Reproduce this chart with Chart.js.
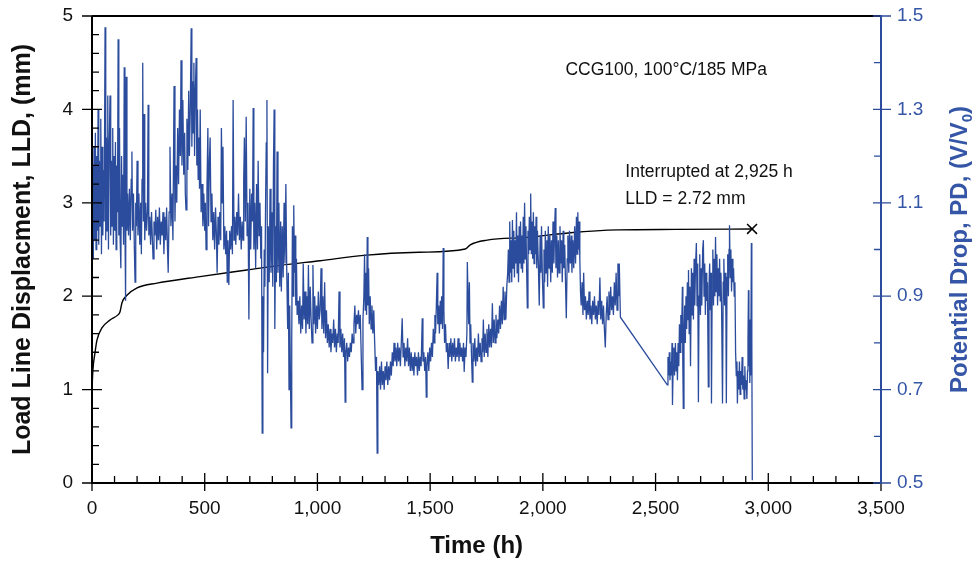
<!DOCTYPE html>
<html>
<head>
<meta charset="utf-8">
<script src="https://cdn.jsdelivr.net/npm/chart.js@4.4.1/dist/chart.umd.min.js"></script>
<style>
  html, body { margin: 0; padding: 0; background: #fff; }
  #wrap { width: 978px; height: 562px; }
</style>
</head>
<body>
<div id="wrap"><canvas id="ccgChart" width="978" height="562"></canvas></div>
<script>
// load line displacement (mm) vs time (h)
var lldHours = [0, 4, 13, 22, 44, 80, 115, 124, 133, 155, 200, 288, 479, 687, 835, 1012, 1219, 1450, 1656, 1678, 1753, 1931, 2122, 2335, 2588, 2925];
var lldValues = [1.0, 1.21, 1.39, 1.53, 1.66, 1.745, 1.80, 1.83, 1.93, 2.01, 2.09, 2.14, 2.21, 2.28, 2.33, 2.38, 2.44, 2.47, 2.505, 2.55, 2.60, 2.63, 2.68, 2.71, 2.715, 2.72];

// end of test marker
var endHours = [2928];
var endLLD = [2.72];

// potential drop (V/V0) vs time (h)
var pdHours = [
  0, 3, 6, 9, 12, 15, 18, 21, 24, 27, 30, 33, 36, 39, 42, 45, 48, 51, 54, 58,
  61, 64, 67, 70, 73, 76, 80, 83, 86, 89, 92, 95, 98, 101, 104, 107, 110, 113, 116, 119,
  122, 125, 128, 131, 134, 137, 140, 143, 146, 149, 152, 155,
  158, 162, 166, 170, 174, 177, 180, 184, 188, 191, 194, 197, 200, 204, 208, 212, 216, 219,
  222, 225, 228, 231, 234, 238, 242, 246, 249, 252, 256, 260, 264, 268, 271, 275, 279, 283,
  287, 291, 295, 299, 303, 307, 311, 315, 319, 323, 327, 331, 335, 338,
  342, 346, 350, 355, 359, 364, 368, 372, 376, 380, 384, 388, 392, 395, 399, 403, 407, 411,
  414, 417, 421, 425, 429, 432, 436, 440, 443, 446, 449, 452, 455, 458, 462, 465, 468, 471,
  474, 477, 480,
  484, 488, 492, 496, 500, 503, 506, 510, 514, 517, 521, 524, 528, 532, 536, 540, 544, 548,
  552, 555, 559, 563, 567, 571, 574, 578, 581, 585, 589, 593, 597, 600, 603, 607, 611, 615,
  619, 623, 626, 630, 634, 638, 642, 646, 650, 654, 658, 662, 666, 670, 673, 676, 680, 684,
  688, 692, 696, 700, 704, 708, 712, 715, 718,
  722, 726, 730, 734, 737, 741, 745, 749, 752, 755, 758, 761, 764, 767, 770, 773, 776, 779,
  782, 786, 790, 794, 798, 802, 805, 808, 811, 815, 818, 821, 825, 829, 833, 837, 840, 844,
  848, 852, 856, 860, 864, 868, 871, 874, 877, 880, 883, 886, 889, 892, 895, 898, 901, 904,
  907, 910, 914,
  918, 922, 926, 930, 934, 937, 941, 945, 949, 953, 957, 960, 964, 968, 972, 976, 980, 984,
  988, 992, 996, 1000, 1004, 1008, 1012, 1016, 1020, 1024, 1028, 1032, 1036, 1040, 1044, 1048,
  1052, 1056, 1060, 1064, 1068, 1072, 1076, 1080, 1084, 1088, 1092, 1096, 1100, 1104, 1108, 1112,
  1116, 1120, 1123, 1126, 1130, 1134, 1138, 1142, 1146, 1150, 1154, 1158, 1162, 1166, 1170, 1174,
  1178, 1182, 1186, 1190, 1194, 1198,
  1202, 1206, 1209, 1212, 1215, 1218, 1221, 1224, 1227, 1230, 1234, 1238, 1242, 1246, 1250, 1254,
  1258, 1262, 1265, 1268, 1272, 1276, 1280, 1284, 1288, 1292, 1296, 1300, 1304, 1308, 1312, 1316,
  1320, 1324, 1328, 1332, 1336, 1340, 1344, 1348, 1352, 1356, 1360, 1364, 1368, 1372, 1376, 1380,
  1384, 1388, 1392, 1396, 1400, 1404, 1408, 1412, 1416, 1420, 1424, 1428, 1432, 1436, 1440, 1444,
  1448, 1452, 1456, 1460, 1465, 1468, 1472, 1476, 1480, 1483, 1486, 1490, 1494, 1498,
  1502, 1506, 1510, 1514, 1518, 1521, 1524, 1527, 1531, 1534, 1538, 1541, 1545, 1548, 1551, 1555,
  1558, 1561, 1564, 1568, 1572, 1576, 1580, 1584, 1588, 1592, 1596, 1600, 1604, 1608, 1612, 1616,
  1620, 1624, 1628, 1632, 1636, 1640, 1644, 1648, 1651, 1655, 1659, 1663, 1665, 1668, 1671, 1674,
  1677, 1680, 1683, 1687, 1690, 1694, 1698, 1702, 1706, 1710, 1714, 1718, 1722, 1726, 1730, 1733,
  1736, 1740, 1744, 1748, 1752, 1756, 1760, 1764, 1768, 1772, 1776, 1780, 1784, 1788, 1792, 1796,
  1800, 1804, 1808, 1812, 1816, 1820, 1824, 1828, 1832, 1836, 1840,
  1844, 1847, 1850, 1853, 1856, 1859, 1862, 1865, 1868, 1871, 1874, 1877, 1880, 1883, 1886, 1889,
  1892, 1895, 1898, 1901, 1904, 1907, 1910, 1913, 1916, 1919, 1922, 1925, 1928, 1931, 1934, 1937,
  1940, 1943, 1946, 1949, 1952, 1955, 1958, 1961, 1964, 1967, 1970, 1973, 1976, 1980, 1984, 1988,
  1991, 1994, 1998, 2002, 2005, 2008, 2011, 2014, 2018, 2021, 2024, 2028, 2031, 2035, 2038, 2042,
  2045, 2049, 2052, 2055, 2058, 2062, 2065, 2069, 2072, 2076, 2079, 2083, 2086, 2090, 2093, 2097,
  2100, 2104, 2108, 2111, 2115, 2118, 2122, 2126, 2129, 2133, 2137, 2141, 2145, 2149, 2152, 2155,
  2158, 2161, 2164, 2167,
  2170, 2174, 2178, 2181, 2185, 2189, 2193, 2197, 2201, 2205, 2209, 2213, 2217, 2221, 2225, 2229,
  2233, 2237, 2241, 2245, 2249, 2253, 2257, 2261, 2265, 2269, 2273, 2277, 2281, 2285, 2289, 2293,
  2297, 2301, 2305, 2309, 2313, 2317, 2321, 2325, 2329, 2333, 2336, 2339, 2344,
  2552, 2555, 2558, 2561, 2564, 2567, 2570, 2573, 2575, 2578, 2581, 2584, 2588, 2591, 2594, 2597,
  2600, 2603, 2606, 2609, 2612, 2615, 2619, 2621, 2623, 2626, 2629, 2632, 2635, 2638, 2641, 2644,
  2646, 2649, 2652, 2655, 2659, 2662, 2665, 2668, 2671, 2674, 2677, 2681, 2684, 2687, 2690, 2693,
  2696, 2699, 2702, 2705, 2709, 2712, 2715, 2718, 2721, 2724, 2727, 2730, 2734, 2737, 2740, 2743,
  2746, 2748, 2751, 2754, 2757, 2760, 2763, 2766, 2769, 2772, 2775, 2778, 2781, 2784, 2787, 2790,
  2793, 2797, 2800, 2803, 2806, 2809, 2812, 2814, 2817, 2820, 2823, 2826, 2828, 2831, 2834, 2837,
  2840, 2843, 2846, 2849, 2852, 2855, 2858, 2861, 2863, 2866, 2869, 2872, 2875, 2878, 2881, 2884,
  2887, 2890, 2893, 2896, 2899, 2902, 2905, 2908, 2910, 2912, 2914, 2916, 2918, 2920, 2922, 2925,
  2927, 2929
];
var pdValues = [
  1.05, 1.18, 0.98, 1.22, 1.02, 1.25, 1.0, 1.2, 1.04, 1.30, 1.01, 1.19, 1.05, 1.28, 0.99, 1.22, 1.03, 1.17, 1.06, 1.476,
  1.02, 1.24, 1.04, 1.33, 1.0, 1.21, 1.33, 1.03, 1.19, 1.05, 1.26, 1.01, 1.2, 1.04, 1.23, 1.0, 1.18, 1.08, 1.45, 1.03,
  1.26, 1.02, 0.96, 1.2, 1.05, 1.16, 1.01, 1.39, 1.06, 0.89, 1.37, 1.04,
  1.12, 1.03, 1.13, 1.02, 1.15, 1.21, 1.04, 1.12, 1.0, 0.93, 1.1, 1.05, 1.19, 1.03, 1.12, 1.01, 1.1, 0.99,
  1.15, 1.40, 1.06, 1.29, 1.02, 1.1, 1.04, 1.08, 1.31, 1.03, 1.07, 1.01, 1.08, 1.02, 0.98, 1.06, 1.03, 1.085,
  1.0, 1.07, 1.02, 1.09, 1.01, 1.06, 1.03, 1.08, 0.99, 1.07, 1.02, 1.09, 1.0, 0.95,
  1.08, 1.22, 1.05, 1.12, 1.02, 1.35, 1.06, 1.18, 1.1, 1.26, 1.14, 1.3, 1.2, 1.405, 1.18, 1.32, 1.16, 1.25,
  1.12, 1.085, 1.28, 1.17, 1.34, 1.2, 1.3, 1.474, 1.22, 1.36, 1.25, 1.40, 1.2, 1.33, 1.41, 1.18, 1.3, 1.15,
  1.24, 1.13, 1.30,
  1.08, 1.14, 1.05, 1.12, 1.04, 1.1, 1.0, 1.13, 1.26, 1.05, 1.19, 1.24, 1.06, 1.12, 1.02, 1.08, 1.0, 1.09,
  1.03, 0.95, 1.07, 1.01, 1.08, 1.02, 1.26, 1.1, 1.22, 1.0, 1.05, 0.99, 1.04, 0.93, 1.02, 0.924, 1.04, 1.0,
  1.05, 0.99, 1.32, 1.02, 1.07, 1.01, 1.08, 1.03, 1.12, 1.02, 1.07, 1.0, 1.06, 1.02, 1.15, 1.24, 1.06, 1.284,
  1.03, 1.1, 0.85, 1.13, 1.0, 1.12, 1.06, 1.303, 1.0,
  1.1, 0.96, 1.14, 1.0, 1.19, 1.03, 1.1, 0.98, 1.05, 0.607, 0.9, 0.78, 1.0, 0.92, 1.1, 1.228, 1.32, 0.735,
  1.05, 0.93, 1.13, 0.95, 1.08, 0.92, 1.18, 1.30, 0.83, 1.05, 0.93, 1.21, 0.95, 1.1, 0.92, 1.06, 0.91, 1.05,
  0.94, 1.1, 0.97, 1.14, 0.95, 0.83, 0.95, 0.70, 0.88, 0.74, 0.618, 0.8, 1.05, 0.9, 1.095, 0.95, 1.03, 0.88,
  0.98, 0.86, 0.89,
  0.84, 0.9, 0.82, 0.88, 0.83, 0.97, 0.85, 0.91, 0.82, 0.9, 0.84, 0.967, 0.83, 0.92, 0.85, 0.80, 0.967, 0.84,
  0.9, 0.82, 0.88, 0.83, 0.91, 0.85, 0.87, 0.96, 0.83, 0.9, 0.82, 0.93, 0.81, 0.87, 0.8, 0.84,
  0.79, 0.83, 0.78, 0.82, 0.8, 0.85, 0.79, 0.83, 0.78, 0.82, 0.8, 0.91, 0.79, 0.83, 0.78, 0.82,
  0.77, 0.81, 0.673, 0.78, 0.8, 0.76, 0.79, 0.77, 0.8, 0.78, 0.82, 0.8, 0.84, 0.88, 0.82, 0.86,
  0.84, 0.87, 0.83, 0.86, 0.78, 0.70,
  0.85, 0.9, 0.99, 0.87, 0.95, 0.86, 1.027, 0.88, 0.96, 0.84, 0.9, 0.83, 0.88, 0.82, 0.87, 0.8,
  0.74, 0.77, 0.564, 0.74, 0.71, 0.75, 0.70, 0.76, 0.71, 0.74, 0.70, 0.75, 0.72, 0.76, 0.71, 0.75,
  0.72, 0.76, 0.73, 0.78, 0.75, 0.8, 0.76, 0.79, 0.75, 0.8, 0.76, 0.79, 0.75, 0.8, 0.853, 0.77,
  0.8, 0.75, 0.79, 0.76, 0.81, 0.75, 0.79, 0.74, 0.78, 0.74, 0.77, 0.73, 0.78, 0.75, 0.77, 0.73,
  0.78, 0.74, 0.77, 0.75, 0.853, 0.76, 0.78, 0.74, 0.77, 0.684, 0.75, 0.78, 0.74, 0.79,
  0.76, 0.8, 0.77, 0.83, 0.8, 0.86, 0.82, 0.87, 0.95, 0.84, 0.88, 0.82, 0.89, 0.84, 0.9, 0.83,
  1.003, 0.87, 0.8, 0.84, 0.78, 0.8, 0.744, 0.8, 0.77, 0.81, 0.76, 0.8, 0.77, 0.81, 0.76, 0.79,
  0.77, 0.81, 0.76, 0.8, 0.77, 0.79, 0.76, 0.8, 0.738, 0.79, 0.77, 0.82, 0.973, 0.9, 0.84, 0.93,
  0.8, 0.84, 0.78, 0.716, 0.8, 0.76, 0.81, 0.75, 0.79, 0.76, 0.82, 0.77, 0.8, 0.76, 0.81, 0.78,
  0.85, 0.77, 0.82, 0.78, 0.83, 0.77, 0.84, 0.79, 0.83, 0.79, 0.885, 0.8, 0.85, 0.8, 0.86, 0.81,
  0.85, 0.82, 0.88, 0.83, 0.89, 0.84, 0.92, 0.85, 0.91, 0.85, 0.92,
  0.95, 1.0, 0.93, 1.06, 0.95, 1.02, 0.93, 1.063, 0.96, 1.04, 0.94, 1.02, 0.97, 1.08, 0.95, 1.03,
  0.93, 1.05, 0.97, 1.06, 0.96, 1.03, 0.95, 1.07, 0.97, 1.10, 0.98, 1.05, 0.96, 0.875, 1.04, 0.99,
  1.07, 1.0, 1.12, 0.99, 1.06, 0.98, 1.08, 0.97, 1.05, 0.99, 1.07, 0.96, 1.04, 0.97, 0.88, 1.03,
  0.95, 1.05, 0.94, 0.875, 1.0, 0.93, 1.04, 0.95, 1.02, 0.92, 1.05, 0.96, 1.03, 0.93, 1.02, 0.95,
  1.06, 0.97, 1.04, 1.089, 0.96, 1.03, 0.94, 1.02, 0.95, 1.05, 0.97, 1.02, 0.93, 1.04, 0.96, 1.01,
  0.94, 0.853, 0.98, 1.03, 0.95, 1.04, 0.97, 1.03, 0.95, 1.02, 0.96, 1.05, 0.97, 1.07, 0.99, 1.08,
  1.0, 1.06, 0.98, 0.91,
  0.88, 0.93, 0.86, 0.95, 0.87, 0.9, 0.85, 0.89, 0.86, 0.91, 0.85, 0.88, 0.84, 0.89, 0.86, 0.9,
  0.85, 0.88, 0.84, 0.89, 0.86, 0.94, 0.85, 0.89, 0.84, 0.88, 0.83, 0.79, 0.86, 0.9, 0.85, 0.91,
  0.86, 0.92, 0.87, 0.9, 0.86, 0.93, 0.88, 0.95, 0.87, 0.97, 0.9, 0.97, 0.855,
  0.71, 0.77, 0.73, 0.78, 0.72, 0.76, 0.73, 0.8, 0.667, 0.75, 0.79, 0.73, 0.8, 0.74, 0.78, 0.72,
  0.8, 0.75, 0.84, 0.78, 0.86, 0.8, 0.92, 0.75, 0.66, 0.82, 0.88, 0.8, 0.9, 0.83, 0.93, 0.85,
  0.956, 0.82, 0.92, 0.75, 0.96, 0.86, 0.95, 0.85, 0.98, 0.88, 0.96, 1.014, 0.88, 0.97, 0.673, 0.9,
  0.99, 0.86, 0.96, 0.88, 1.0, 1.02, 0.9, 0.97, 0.86, 0.95, 0.89, 0.93, 0.706, 0.92, 0.97, 0.87,
  0.95, 0.67, 0.91, 1.0, 0.88, 0.98, 0.9, 1.027, 0.91, 0.99, 0.88, 0.96, 0.9, 0.98, 0.89, 0.95,
  0.87, 0.67, 0.93, 0.98, 0.88, 0.95, 0.86, 0.671, 0.94, 0.99, 0.9, 1.0, 1.052, 0.94, 1.0, 0.91,
  0.98, 0.93, 0.96, 0.9, 0.93, 0.78, 0.73, 0.76, 0.67, 0.74, 0.7, 0.76, 0.69, 0.74, 0.71, 0.77,
  0.7, 0.73, 0.68, 0.75, 0.7, 0.72, 0.68, 0.74, 0.81, 0.913, 0.75, 0.85, 0.714, 0.79, 0.73, 1.014,
  0.8, 0.506
];

var lineBlue = '#2b4c9c';
var axisBlue = '#3556a6';

var pdPoints = pdHours.map(function(h, i) { return { x: h, y: pdValues[i] }; });
var lldPoints = lldHours.map(function(h, i) { return { x: h, y: lldValues[i] }; });
var endPoints = endHours.map(function(h, i) { return { x: h, y: endLLD[i] }; });

// ticks both sides of the axis for majors, inside only for minors
var frame = {
  id: 'frame',
  afterDatasetsDraw: function(chart) {
    var ctx = chart.ctx;
    var a = chart.chartArea;
    var xs = chart.scales.x, ys = chart.scales.y, y1 = chart.scales.y1;
    ctx.save();
    ctx.lineWidth = 2;
    ctx.strokeStyle = '#000';
    ctx.beginPath();
    ctx.moveTo(a.left, a.top); ctx.lineTo(a.right, a.top);
    ctx.moveTo(a.left, a.top); ctx.lineTo(a.left, a.bottom);
    ctx.moveTo(a.left - 1, a.bottom); ctx.lineTo(a.right, a.bottom);
    ctx.stroke();

    ctx.lineWidth = 1.3;
    ctx.beginPath();
    var v, p;
    for (v = 0; v <= 3500; v += 100) {
      p = xs.getPixelForValue(v);
      if (v % 500 === 0) { ctx.moveTo(p, a.bottom + 8); ctx.lineTo(p, a.bottom - 10); }
      else { ctx.moveTo(p, a.bottom); ctx.lineTo(p, a.bottom - 7); }
    }
    for (v = 0; v <= 25; v += 1) {
      p = ys.getPixelForValue(v / 5);
      if (v % 5 === 0) { ctx.moveTo(a.left - 10, p); ctx.lineTo(a.left + 10, p); }
      else { ctx.moveTo(a.left, p); ctx.lineTo(a.left + 7, p); }
    }
    ctx.stroke();

    ctx.strokeStyle = lineBlue;
    ctx.lineWidth = 2;
    ctx.beginPath();
    ctx.moveTo(a.right, a.top - 1); ctx.lineTo(a.right, a.bottom + 1);
    ctx.stroke();
    ctx.lineWidth = 1.3;
    ctx.beginPath();
    for (v = 5; v <= 15; v += 1) {
      p = y1.getPixelForValue(v / 10);
      if (v % 2 === 1) { ctx.moveTo(a.right - 8, p); ctx.lineTo(a.right + 10, p); }
      else { ctx.moveTo(a.right - 7, p); ctx.lineTo(a.right, p); }
    }
    ctx.stroke();

    // notes
    ctx.fillStyle = '#111';
    ctx.font = '17.5px "Liberation Sans", Arial, sans-serif';
    ctx.textBaseline = 'middle';
    ctx.textAlign = 'left';
    ctx.fillText('CCG100, 100\u00B0C/185 MPa', xs.getPixelForValue(2100), ys.getPixelForValue(4.42));
    ctx.fillText('Interrupted at 2,925 h', xs.getPixelForValue(2366), ys.getPixelForValue(3.33));
    ctx.fillText('LLD = 2.72 mm', xs.getPixelForValue(2366), ys.getPixelForValue(3.04));

    // x axis title, sits a little left of centre in the original
    ctx.font = 'bold 24px "Liberation Sans", Arial, sans-serif';
    ctx.textAlign = 'center';
    ctx.fillText('Time (h)', xs.getPixelForValue(1706), 546);

    // right axis title with subscript
    ctx.textAlign = 'left';
    ctx.fillStyle = axisBlue;
    ctx.translate(967, (a.top + a.bottom) / 2);
    ctx.rotate(-Math.PI / 2);
    var bold = 'bold 24px "Liberation Sans", Arial, sans-serif';
    var sub = 'bold 15px "Liberation Sans", Arial, sans-serif';
    var main = 'Potential Drop, PD, (V/V';
    ctx.font = bold;
    var w1 = ctx.measureText(main).width;
    var w3 = ctx.measureText(')').width;
    ctx.font = sub;
    var w2 = ctx.measureText('0').width;
    var x0 = -(w1 + w2 + w3) / 2;
    ctx.textBaseline = 'alphabetic';
    ctx.font = bold;
    ctx.fillText(main, x0, 0);
    ctx.font = sub;
    ctx.fillText('0', x0 + w1, 5);
    ctx.font = bold;
    ctx.fillText(')', x0 + w1 + w2, 0);
    ctx.restore();
  }
};

// the tick padding is only wanted beside the labels, not above the plot
function fixVertical(width) {
  return function(scale) {
    scale.width = width;
    scale.paddingTop = 0;
    scale.paddingBottom = 0;
  };
}

var ctx1 = document.getElementById('ccgChart');

var chart1 = new Chart(ctx1, {
  type: 'line',
  data: {
    datasets: [
      {
        label: 'End',
        data: endPoints,
        yAxisID: 'y',
        showLine: false,
        pointStyle: 'crossRot',
        pointRadius: 7,
        pointBorderWidth: 1.5,
        borderColor: '#000',
        backgroundColor: '#000'
      },
      {
        label: 'PD',
        data: pdPoints,
        yAxisID: 'y1',
        borderColor: lineBlue,
        borderWidth: 1.3,
        pointRadius: 0,
        tension: 0
      },
      {
        label: 'LLD',
        data: lldPoints,
        yAxisID: 'y',
        borderColor: '#000',
        borderWidth: 1.4,
        pointRadius: 0,
        cubicInterpolationMode: 'monotone'
      }
    ]
  },
  options: {
    responsive: false,
    animation: false,
    events: [],
    layout: { padding: { top: 16, left: 0, right: 0, bottom: 0 } },
    plugins: {
      legend: { display: false },
      tooltip: { enabled: false }
    },
    scales: {
      x: {
        type: 'linear',
        min: 0,
        max: 3500,
        grid: { display: false, drawTicks: false },
        border: { display: false },
        ticks: {
          stepSize: 500,
          padding: 14,
          color: '#111',
          maxRotation: 0,
          font: { family: '"Liberation Sans", Arial, sans-serif', size: 19 },
          callback: function(value) { return value.toLocaleString('en-US'); }
        },
        afterFit: function(scale) { scale.height = 79; }
      },
      y: {
        type: 'linear',
        position: 'left',
        min: 0,
        max: 5,
        grid: { display: false, drawTicks: false },
        border: { display: false },
        ticks: {
          stepSize: 1,
          padding: 19,
          color: '#111',
          font: { family: '"Liberation Sans", Arial, sans-serif', size: 19 }
        },
        title: {
          display: true,
          text: 'Load Line Displacment, LLD, (mm)',
          color: '#111',
          padding: { top: 8, bottom: 0 },
          font: { family: '"Liberation Sans", Arial, sans-serif', size: 25, weight: 'bold' }
        },
        afterFit: fixVertical(92)
      },
      y1: {
        type: 'linear',
        position: 'right',
        min: 0.5,
        max: 1.5,
        grid: { display: false, drawTicks: false },
        border: { display: false },
        ticks: {
          stepSize: 0.2,
          padding: 16,
          color: axisBlue,
          font: { family: '"Liberation Sans", Arial, sans-serif', size: 19 },
          callback: function(value) { return value.toFixed(1); }
        },
        afterFit: fixVertical(97)
      }
    }
  },
  plugins: [frame]
});
</script>
</body>
</html>
